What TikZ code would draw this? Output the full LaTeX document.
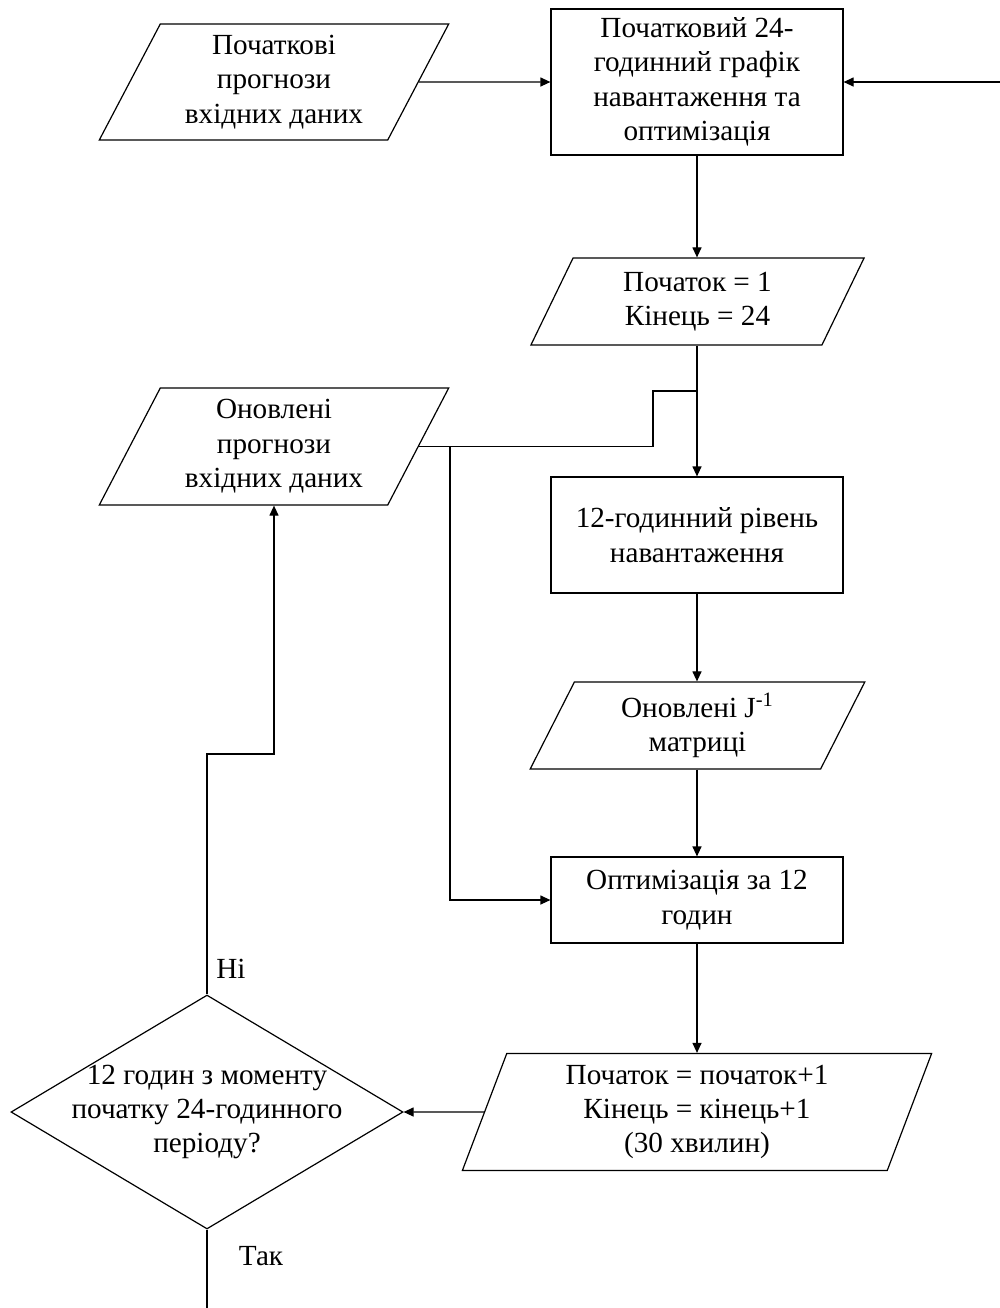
\documentclass[tikz,border=0pt]{standalone}
\usepackage{fontspec}
\setmainfont{Liberation Serif}
\usepackage{tikz}
\usetikzlibrary{
  arrows.meta,
  shapes.geometric,
  positioning
}
\definecolor{fcLine}{HTML}{000000}
\tikzset{
  fcnode/.style={
    draw=fcLine, line width=0.6pt, inner sep=0pt, align=center,
    font=\fontsize{14.6}{17.2}\selectfont
  },
  fcbox/.style={fcnode, rectangle, minimum width=146pt},
  fcdata/.style={
    fcnode, trapezium, trapezium stretches=true,
    trapezium left angle=#1, trapezium right angle=180-#1
  },
  fcdecision/.style={fcnode, diamond, minimum width=196pt, minimum height=117pt},
  fctext/.style={align=center, inner sep=0pt, font=\fontsize{14.6}{17.2}\selectfont},
  fcflow/.style={-{Triangle[length=5pt, width=4.5pt]}, line width=0.6pt, fcLine},
  fcline/.style={line width=0.6pt, fcLine}
}
\begin{document}
\begin{tikzpicture}[x=0.5pt, y=-0.5pt]
  \useasboundingbox (0,0) rectangle (1000,1308);
  \node[fcdata=63, minimum width=175pt, minimum height=58pt] (init) at (274,82)
    {Початкові\\прогнози\\вхідних даних};
  \node[fcbox, minimum height=73pt] (plan) at (697,82)
    {Початковий 24-\\годинний графік\\навантаження та\\оптимізація};
  \node[fcdata=67, minimum width=167.5pt, minimum height=43.5pt] (range) at (697.5,301.5)
    {Початок = 1\\Кінець = 24};
  \node[fcdata=63, minimum width=175pt, minimum height=58.5pt] (upd) at (274,446.5)
    {Оновлені\\прогнози\\вхідних даних};
  \node[fcbox, minimum height=58pt] (load) at (697,535)
    {12-годинний рівень\\навантаження};
  \node[fcdata=67, minimum width=167.5pt, minimum height=43.5pt] (jac) at (697.5,725.5)
    {Оновлені J\textsuperscript{-1}\\матриці};
  \node[fcbox, minimum height=43pt] (opt) at (697,900)
    {Оптимізація за 12\\годин};
  \node[fcdata=72, minimum width=235pt, minimum height=58.5pt] (shift) at (697,1112)
    {Початок = початок+1\\Кінець = кінець+1\\(30 хвилин)};
  \node[fcdecision] (check) at (207,1112) {};
  \node[fctext] (checktxt) at (check.center)
    {12 годин з моменту\\початку 24-годинного\\періоду?};
  \node[fctext] (no) at (231,969) {Ні};
  \node[fctext] (yes) at (261,1256) {Так};

  \coordinate (back) at (1000,82);
  \coordinate (jog) at (653,391);
  \coordinate (split) at (450,446.5);
  \coordinate (turn) at (207,754);
  \coordinate (exit) at (207,1308);

  \draw[fcflow] (init.east) -- (plan.west);
  \draw[fcflow] (back) -- (plan.east);
  \draw[fcflow] (plan.south) -- (plan.south |- range.north);
  \draw[fcflow] (load.north |- range.south) -- (load.north);
  \draw[fcline] (upd.east) -| (jog) -- (jog -| load.north);
  \draw[fcflow] (split) |- (opt.west);
  \draw[fcflow] (load.south) -- (load.south |- jac.north);
  \draw[fcflow] (opt.north |- jac.south) -- (opt.north);
  \draw[fcflow] (opt.south) -- (opt.south |- shift.north);
  \draw[fcflow] (shift.west) -- (check.east);
  \draw[fcflow] (check.north) -- (turn) -| (upd.center |- upd.south);
  \draw[fcline] (check.south) -- (exit);
\end{tikzpicture}
\end{document}
